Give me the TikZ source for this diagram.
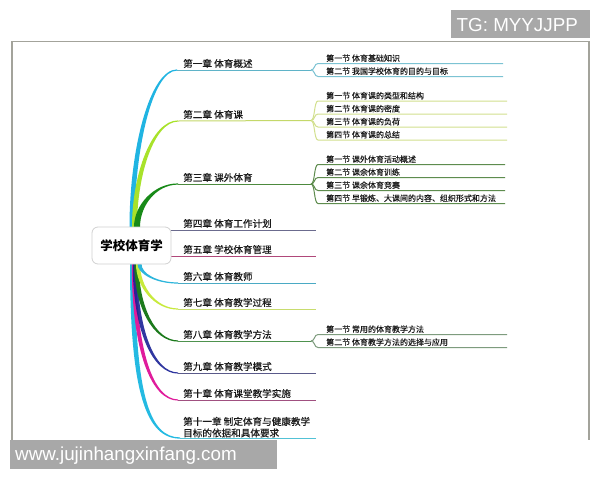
\documentclass[tikz,border=0pt]{standalone}
\usepackage{fontspec}
\setmainfont{Noto Sans CJK SC}
\newfontfamily\cjkreg{Noto Sans CJK SC}[FakeBold=0.45]
\newfontfamily\wmfont{Liberation Sans}
\usetikzlibrary{calc}
\definecolor{frameC}{HTML}{A3A39B}
\definecolor{wmC}{HTML}{A8A8A8}
\definecolor{txtC}{HTML}{1A1A1A}
\definecolor{b1}{HTML}{20B4E2}\definecolor{l1}{HTML}{5FB3C8}\definecolor{s1}{HTML}{7CC3D3}
\definecolor{b2}{HTML}{A8E22A}\definecolor{l2}{HTML}{C4D86A}\definecolor{s2}{HTML}{D2E08E}
\definecolor{b3}{HTML}{188A18}\definecolor{l3}{HTML}{4D8A3E}\definecolor{s3}{HTML}{5E8C4E}
\definecolor{l4}{HTML}{6B6B8E}
\definecolor{l5}{HTML}{B0487A}
\definecolor{b6}{HTML}{2DB6DC}\definecolor{l6}{HTML}{4AAAC4}
\definecolor{b7}{HTML}{C8EA3C}\definecolor{l7}{HTML}{C8DC6E}
\definecolor{b8}{HTML}{1C7A1C}\definecolor{l8}{HTML}{4E924E}\definecolor{s8}{HTML}{7E9C7E}
\definecolor{b9}{HTML}{1A2296}\definecolor{l9}{HTML}{5A5A8A}
\definecolor{b10}{HTML}{E01C9C}\definecolor{l10}{HTML}{A05080}
\definecolor{b11}{HTML}{24BAE2}\definecolor{l11}{HTML}{52C2D6}
\tikzset{
  tw/.store in=\tw, tk/.store in=\tk, tc/.store in=\tc,
  tw=2.5pt, tk=0.5, tc=0.4,
  taper/.style={to path={let \p1=(\tikztostart), \p2=(\tikztotarget), \n1={(\y2>\y1)*2-1} in
     ({\x1-\tw/2},\y1) .. controls ({\x1-\tw/2},{\y2+\tk*(\y1-\y2)}) and ({\x1+\tc*(\x2-\x1)},{\y2+\n1*0.6pt}) .. (\x2,{\y2+\n1*0.6pt})
     -- (\x2,{\y2-\n1*0.6pt}) .. controls ({\x1+\tc*(\x2-\x1)+\tw/2},{\y2-\n1*0.6pt}) and ({\x1+\tw/2},{\y2+\tk*(\y1-\y2)}) .. ({\x1+\tw/2},\y1) -- cycle}},
  chap/.style={anchor=base west, inner sep=0pt, text=txtC, font=\cjkreg\fontsize{9.6}{11.5}\selectfont},
  secn/.style={anchor=base west, inner sep=0pt, text=txtC, font=\cjkreg\fontsize{8}{9}\selectfont},
  uline/.style={draw=#1, line width=1pt},
  rootbox/.style={draw=black!18, line width=0.8pt, fill=white, rounded corners=6pt,
    minimum width=79pt, minimum height=37pt, inner sep=0pt, text=black,
    font=\fontsize{12.5}{14}\selectfont\bfseries},
  wmbox/.style={fill=wmC, draw=none},
  wmtext/.style={anchor=base west, inner sep=0pt, text=white, font=\wmfont\fontsize{18.8}{20}\selectfont}
}
\begin{document}
\begin{tikzpicture}[x=1pt,y=-1pt]
\fill[white] (0,0) rectangle (600,480);
\useasboundingbox (0,0) rectangle (600,480);
% frame
\draw[frameC, line width=1.1pt] (12,440) -- (12,41.5) -- (589,41.5) -- (589,440);

% branch start points on the root box
\coordinate (r1) at (132,227);
\coordinate (r2) at (134.5,227);
\coordinate (r3) at (137,227);
\coordinate (r6) at (139.5,264);
\coordinate (r7) at (138,264);
\coordinate (r8) at (136.5,264);
\coordinate (r9) at (135,264);
\coordinate (r10) at (134,264);
\coordinate (r11) at (132.5,264);

% chapter line starts / ends
\coordinate (c1s) at (177,70);   \coordinate (c1e) at (311,70);
\coordinate (c2s) at (178,121);  \coordinate (c2e) at (311,120.5);
\coordinate (c3s) at (178,184);  \coordinate (c3e) at (311,184);
\coordinate (c4s) at (171,230);  \coordinate (c4e) at (316,230);
\coordinate (c5s) at (171,256);  \coordinate (c5e) at (316,256);
\coordinate (c6s) at (178,283);  \coordinate (c6e) at (316,283);
\coordinate (c7s) at (178,309);  \coordinate (c7e) at (316,309);
\coordinate (c8s) at (178,341);  \coordinate (c8e) at (311,341);
\coordinate (c9s) at (178,373);  \coordinate (c9e) at (316,373);
\coordinate (c10s) at (178,400); \coordinate (c10e) at (316,400);
\coordinate (c11s) at (180,438); \coordinate (c11e) at (316,438);

% tapered branches
\fill[b1] (r1) to[taper, tw=5pt] (c1s);
\fill[b2] (r2) to[taper, tw=5pt] (c2s);
\fill[b3] (r3) to[taper, tw=6pt] (c3s);
\fill[b11] (r11) to[taper, tw=5pt, tk=0.25, tc=0.3] (c11s);
\fill[b10] (r10) to[taper, tw=4.5pt, tk=0.35] (c10s);
\fill[b9, opacity=0.9] (r9) to[taper, tw=4.5pt, tk=0.4] (c9s);
\fill[b8] (r8) to[taper, tw=4.5pt, tk=0.45] (c8s);
\fill[b7] (r7) to[taper, tw=4pt] (c7s);
\fill[b6] (r6) to[taper, tw=4pt] (c6s);

% chapter underlines
\draw[uline=l1] (c1s) -- (c1e);
\draw[uline=l2] (c2s) -- (c2e);
\draw[uline=l3] (c3s) -- (c3e);
\draw[uline=l4] (c4s) -- (c4e);
\draw[uline=l5] (c5s) -- (c5e);
\draw[uline=l6] (c6s) -- (c6e);
\draw[uline=l7] (c7s) -- (c7e);
\draw[uline=l8] (c8s) -- (c8e);
\draw[uline=l9] (c9s) -- (c9e);
\draw[uline=l10] (c10s) -- (c10e);
\draw[uline=l11] (c11s) -- (c11e);

% chapter texts
\node[chap] (c1) at (183,67.2) {第一章 体育概述};
\node[chap] (c2) at (183,118.2) {第二章 体育课};
\node[chap] (c3) at (183,181.2) {第三章 课外体育};
\node[chap] (c4) at (183,227.2) {第四章 体育工作计划};
\node[chap] (c5) at (183,253.2) {第五章 学校体育管理};
\node[chap] (c6) at (183,280.2) {第六章 体育教师};
\node[chap] (c7) at (183,306.2) {第七章 体育教学过程};
\node[chap] (c8) at (183,338.2) {第八章 体育教学方法};
\node[chap] (c9) at (183,370.2) {第九章 体育教学模式};
\node[chap] (c10) at (183,397.2) {第十章 体育课堂教学实施};
\node[chap, anchor=south west, align=left] (c11) at (183,437.6) {第十一章 制定体育与健康教学\\目标的依据和具体要求};

% sections ch1
\foreach \yy/\txt [count=\i] in {63.5/{第一节 体育基础知识},76.5/{第二节 我国学校体育的目的与目标}}{
  \node[secn] (sa\i) at (326,\yy-2.3) {\txt};
  \draw[uline=s1] (c1e) .. controls (315,70) and (314,\yy) .. (318,\yy) -- (503,\yy);
}
% sections ch2
\foreach \yy/\txt [count=\i] in {101/{第一节 体育课的类型和结构},114/{第二节 体育课的密度},127/{第三节 体育课的负荷},140/{第四节 体育课的总结}}{
  \node[secn] (sb\i) at (326,\yy-2.3) {\txt};
  \draw[uline=s2] (c2e) .. controls (315,120.5) and (314,\yy) .. (318,\yy) -- (507,\yy);
}
% sections ch3
\foreach \yy/\txt [count=\i] in {164.5/{第一节 课外体育活动概述},177.5/{第二节 课余体育训练},190.5/{第三节 课余体育竞赛},203.5/{第四节 早锻炼、大课间的内容、组织形式和方法}}{
  \node[secn] (sc\i) at (326,\yy-2.3) {\txt};
  \draw[uline=s3] (c3e) .. controls (315,184) and (314,\yy) .. (318,\yy) -- (505,\yy);
}
% sections ch8
\foreach \yy/\txt [count=\i] in {334.5/{第一节 常用的体育教学方法},347.5/{第二节 体育教学方法的选择与应用}}{
  \node[secn] (sd\i) at (326,\yy-2.3) {\txt};
  \draw[uline=s8] (c8e) .. controls (315,341) and (314,\yy) .. (318,\yy) -- (507,\yy);
}

% root
\node[rootbox] (root) at (131.5,245.5) {学校体育学};

% watermarks
\fill[wmbox] (451,10) rectangle (590,38);
\node[wmtext] (wm1) at (456.5,31.7) {TG: MYYJJPP};
\fill[wmbox] (10,440) rectangle (277,469.3);
\node[wmtext] (wm2) at (15,460.5) {www.jujinhangxinfang.com};
\end{tikzpicture}
\end{document}
